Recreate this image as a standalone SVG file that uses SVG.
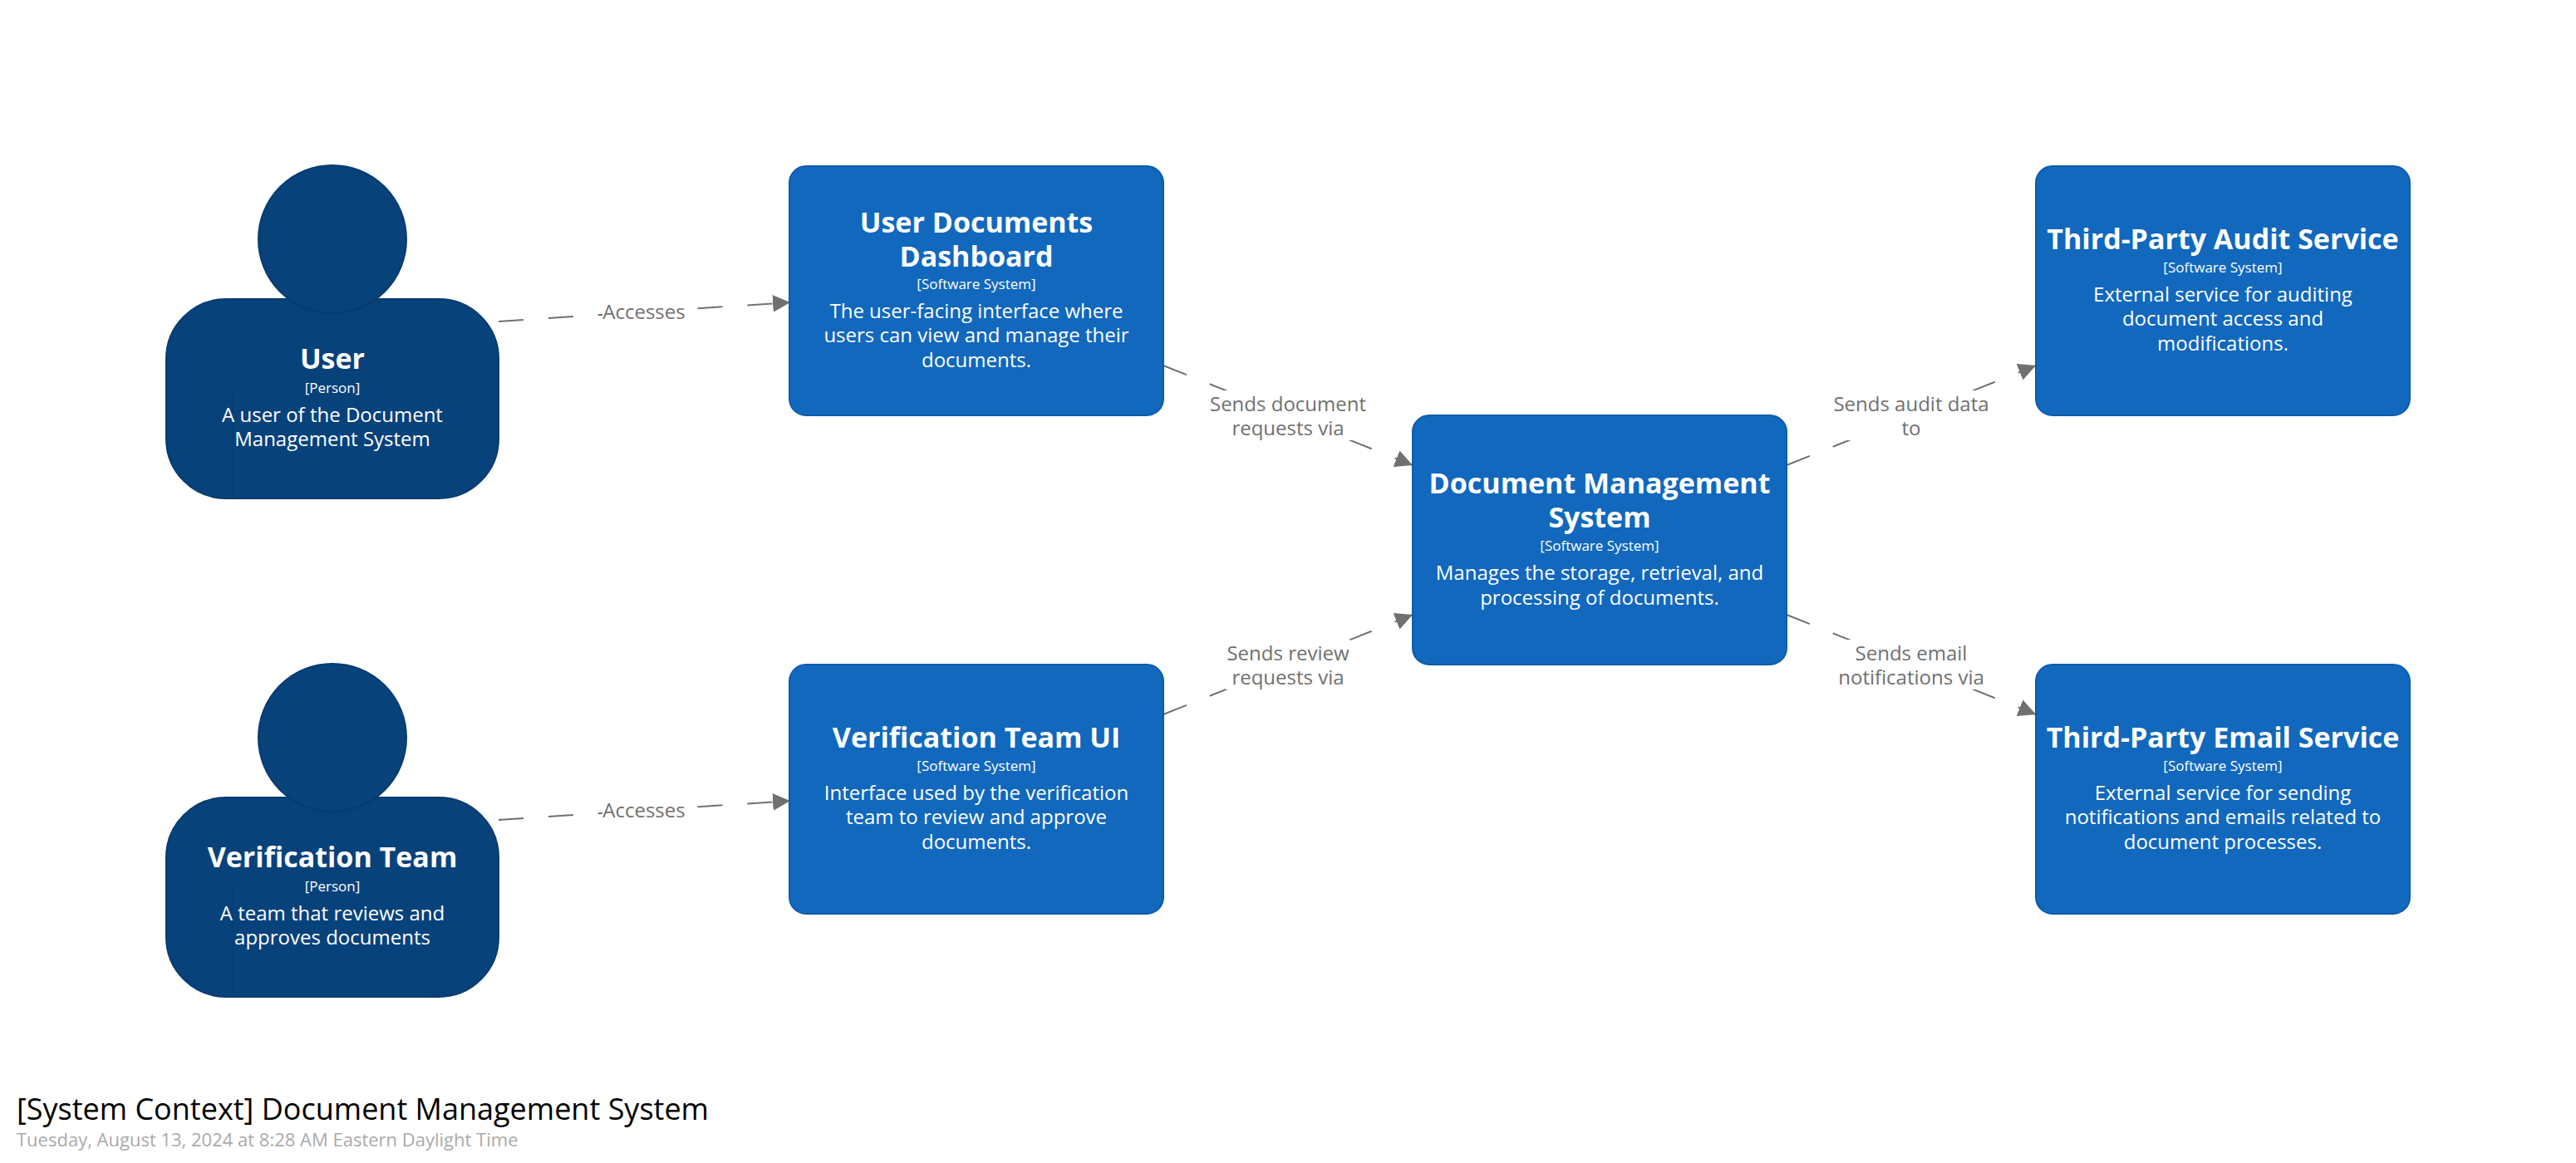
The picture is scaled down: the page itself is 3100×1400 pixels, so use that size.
<svg xmlns="http://www.w3.org/2000/svg" width="3100" height="1400" viewBox="0 0 3100 1400">
<style>
text{font-family:"Open Sans","Noto Sans",sans-serif;text-anchor:middle}
.n{font-size:34px;font-weight:700;fill:#fff}
.m{font-size:17px;fill:#fff}
.d{font-size:24px;fill:#fff}
.l{font-size:24px;fill:#707070}
.box{fill:#1168bd;stroke:#0e5cab;stroke-width:2}
.p{fill:#08427b;stroke:#073b70;stroke-width:2}
.pl{fill:none;stroke:#073b70;stroke-width:1}
.c{fill:none;stroke:#707070;stroke-width:2;stroke-dasharray:30 30;marker-end:url(#a)}
.bg{fill:#fff}
</style>
<defs>
<marker id="a" markerUnits="userSpaceOnUse" markerWidth="22" markerHeight="22" refX="21" refY="11" orient="auto"><path d="M0 0.5L21 11L0 21.5z" fill="#707070"/></marker>
</defs>
<rect width="3100" height="1400" fill="#fff"/>
<g id="connectors">
<path class="c" d="M600 387L951 364"/>
<path class="c" d="M600 987L951 964"/>
<path class="c" d="M1400 440L1700 560"/>
<path class="c" d="M1400 860L1700 740"/>
<path class="c" d="M2150 560L2450 440"/>
<path class="c" d="M2150 740L2450 860"/>
<g>
<rect class="bg" x="725" y="360" width="100" height="32"/>
<text class="l" x="775" y="384">Accesses</text>
<rect class="bg" x="725" y="960" width="100" height="32"/>
<text class="l" x="775" y="984">Accesses</text>
<rect class="bg" x="1455" y="470" width="190" height="60"/>
<text class="l" x="1550" y="495">Sends document</text>
<text class="l" x="1550" y="524">requests via</text>
<rect class="bg" x="1475" y="770" width="150" height="60"/>
<text class="l" x="1550" y="795">Sends review</text>
<text class="l" x="1550" y="824">requests via</text>
<rect class="bg" x="2206" y="470" width="188" height="60"/>
<text class="l" x="2300" y="495">Sends audit data</text>
<text class="l" x="2300" y="524">to</text>
<rect class="bg" x="2212" y="770" width="176" height="60"/>
<text class="l" x="2300" y="795">Sends email</text>
<text class="l" x="2300" y="824">notifications via</text>
</g>
</g>
<g id="user">
<rect class="p" x="200" y="360" width="400" height="240" rx="72" ry="72"/>
<circle class="p" cx="400" cy="288" r="89"/>
<path class="pl" d="M280 467V600M520 467V600"/>
<text class="n" x="400" y="444">User</text>
<text class="m" x="400" y="473">[Person]</text>
<text class="d" x="400" y="508">A user of the Document</text>
<text class="d" x="400" y="537">Management System</text>
</g>
<g id="verification-team">
<rect class="p" x="200" y="960" width="400" height="240" rx="72" ry="72"/>
<circle class="p" cx="400" cy="888" r="89"/>
<path class="pl" d="M280 1067V1200M520 1067V1200"/>
<text class="n" x="400" y="1044">Verification Team</text>
<text class="m" x="400" y="1073">[Person]</text>
<text class="d" x="400" y="1108">A team that reviews and</text>
<text class="d" x="400" y="1137">approves documents</text>
</g>
<g id="user-documents-dashboard">
<rect class="box" x="950" y="200" width="450" height="300" rx="20" ry="20"/>
<text class="n" x="1175" y="280">User Documents</text>
<text class="n" x="1175" y="321">Dashboard</text>
<text class="m" x="1175" y="348">[Software System]</text>
<text class="d" x="1175" y="383">The user-facing interface where</text>
<text class="d" x="1175" y="412">users can view and manage their</text>
<text class="d" x="1175" y="442">documents.</text>
</g>
<g id="verification-team-ui">
<rect class="box" x="950" y="800" width="450" height="300" rx="20" ry="20"/>
<text class="n" x="1175" y="900">Verification Team UI</text>
<text class="m" x="1175" y="928">[Software System]</text>
<text class="d" x="1175" y="963">Interface used by the verification</text>
<text class="d" x="1175" y="992">team to review and approve</text>
<text class="d" x="1175" y="1022">documents.</text>
</g>
<g id="document-management-system">
<rect class="box" x="1700" y="500" width="450" height="300" rx="20" ry="20"/>
<text class="n" x="1925" y="594">Document Management</text>
<text class="n" x="1925" y="635">System</text>
<text class="m" x="1925" y="663">[Software System]</text>
<text class="d" x="1925" y="698">Manages the storage, retrieval, and</text>
<text class="d" x="1925" y="728">processing of documents.</text>
</g>
<g id="third-party-audit-service">
<rect class="box" x="2450" y="200" width="450" height="300" rx="20" ry="20"/>
<text class="n" x="2675" y="300">Third-Party Audit Service</text>
<text class="m" x="2675" y="328">[Software System]</text>
<text class="d" x="2675" y="363">External service for auditing</text>
<text class="d" x="2675" y="392">document access and</text>
<text class="d" x="2675" y="422">modifications.</text>
</g>
<g id="third-party-email-service">
<rect class="box" x="2450" y="800" width="450" height="300" rx="20" ry="20"/>
<text class="n" x="2675" y="900">Third-Party Email Service</text>
<text class="m" x="2675" y="928">[Software System]</text>
<text class="d" x="2675" y="963">External service for sending</text>
<text class="d" x="2675" y="992">notifications and emails related to</text>
<text class="d" x="2675" y="1022">document processes.</text>
</g>
<g id="title">
<text x="20" y="1348" style="font-size:36px;fill:#000;text-anchor:start">[System Context] Document Management System</text>
<text x="20" y="1380" style="font-size:22px;fill:#aaa;text-anchor:start">Tuesday, August 13, 2024 at 8:28 AM Eastern Daylight Time</text>
</g>
</svg>
